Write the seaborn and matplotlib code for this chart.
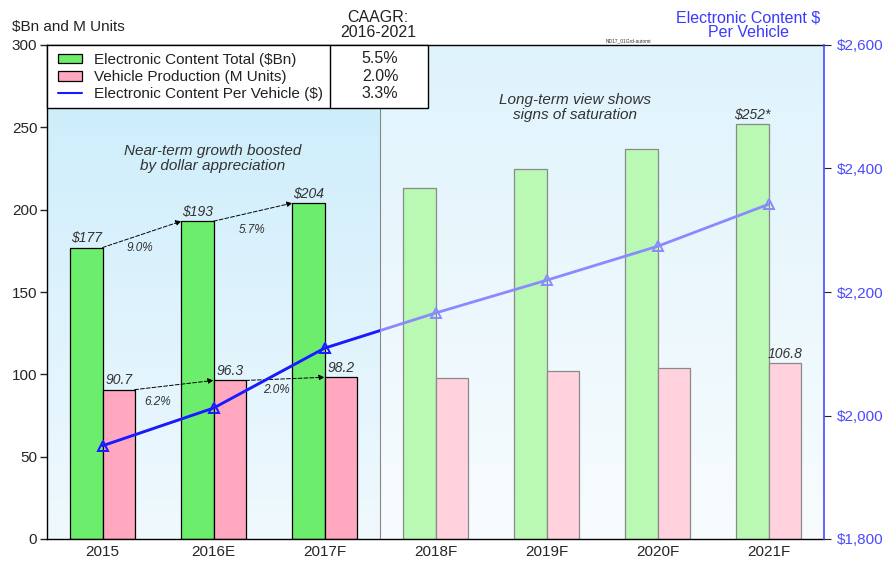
import numpy as np
import pandas as pd
import matplotlib
matplotlib.use("Agg")
import matplotlib.pyplot as plt
import seaborn as sns
from matplotlib.colors import LinearSegmentedColormap
from matplotlib.patches import Rectangle, Patch
from matplotlib.lines import Line2D
from matplotlib.ticker import FuncFormatter

# Data
years = ["2015", "2016E", "2017F", "2018F", "2019F", "2020F", "2021F"]
content_bn = [177, 193, 204, 213, 224.6, 236.8, 252]
production_m = [90.7, 96.3, 98.2, 97.9, 101.8, 104.0, 106.8]
content_per_vehicle = [1951, 2012, 2109, 2166, 2219, 2274, 2342]
series_names = ["Electronic Content Total ($Bn)", "Vehicle Production (M Units)",
                "Electronic Content Per Vehicle ($)"]
caagr = ["5.5%", "2.0%", "3.3%"]

sns.set_style("white")
plt.rcParams["font.family"] = ["Liberation Sans", "DejaVu Sans"]

GREEN, PINK = "#6cee6c", "#ffa8c0"
GREEN_L, PINK_L = "#b9f9b4", "#ffd2de"
BLUE, BLUE_L = "#1a1aff", "#8a8aff"
TXT = "#333333"

df = pd.DataFrame({
    "year": years * 2,
    "value": content_bn + production_m,
    "series": [series_names[0]] * 7 + [series_names[1]] * 7,
})

fig = plt.figure(figsize=(8.85, 5.63), dpi=100)
ax = fig.add_axes([47 / 885, 24 / 563, 777 / 885, 494 / 563])

# background gradients
left_cmap = LinearSegmentedColormap.from_list("l", ["#f0f9fe", "#c9ecfb"])
right_cmap = LinearSegmentedColormap.from_list("r", ["#f8fcfe", "#dff3fc"])
grad = np.linspace(0, 1, 256).reshape(-1, 1)
ax.imshow(grad, cmap=left_cmap, origin="lower", aspect="auto",
          extent=(-0.5, 2.5, 0, 300), zorder=0)
ax.imshow(grad, cmap=right_cmap, origin="lower", aspect="auto",
          extent=(2.5, 6.5, 0, 300), zorder=0)
ax.axvline(2.5, color="#888888", lw=0.8, zorder=0.5)

sns.barplot(data=df, x="year", y="value", hue="series", order=years,
            palette=[GREEN, PINK], width=0.58, edgecolor="black",
            linewidth=0.9, saturation=1, legend=False, ax=ax, zorder=2)
for cont, light in zip(ax.containers, [GREEN_L, PINK_L]):
    for i, p in enumerate(cont.patches):
        if i >= 3:
            p.set_facecolor(light)
            p.set_edgecolor("#8a8a8a")

ax.set_xlim(-0.5, 6.5)
ax.set_ylim(0, 300)
ax.set_yticks(range(0, 301, 50))
ax.set_xlabel("")
ax.set_ylabel("")
ax.set_xticks(np.arange(7))
ax.set_xticklabels(years)
ax.set_xticks(np.arange(-0.5, 6.6, 1), minor=True)
ax.tick_params(axis="x", which="major", length=0, labelsize=11, pad=4)
ax.tick_params(axis="x", which="minor", length=5, width=1, direction="out")
ax.tick_params(axis="y", length=5, width=1, direction="out", labelsize=11, pad=2)
ax.spines["right"].set_visible(False)
for s in ["left", "bottom", "top"]:
    ax.spines[s].set_color("black")
    ax.spines[s].set_linewidth(1)

# secondary axis: content per vehicle
ax2 = ax.twinx()
xs = np.arange(len(years))
sns.lineplot(x=xs, y=content_per_vehicle, ax=ax2, color=BLUE_L, lw=2,
             marker="^", markersize=7, markerfacecolor="none",
             markeredgecolor=BLUE_L, markeredgewidth=1.4)
sns.lineplot(x=xs, y=content_per_vehicle, ax=ax2, color=BLUE, lw=2,
             marker="^", markersize=7, markerfacecolor="none",
             markeredgecolor=BLUE, markeredgewidth=1.4)
clip = Rectangle((-0.5, 1800), 3.0, 800, transform=ax2.transData)
ax2.lines[-1].set_clip_path(clip)
ax2.set_ylim(1800, 2600)
ax2.set_yticks(range(1800, 2601, 200))
ax2.yaxis.set_major_formatter(FuncFormatter(lambda v, _: f"${v:,.0f}"))
ax2.tick_params(axis="y", labelcolor="#4a4aff", labelsize=11, length=5,
                direction="out", color="#222222", pad=4)
for s in ["left", "bottom", "top"]:
    ax2.spines[s].set_visible(False)
ax2.spines["right"].set_color("#4a4aff")
ax2.spines["right"].set_linewidth(1.2)
ax2.set_xlim(-0.5, 6.5)
ax2.set_ylabel("")

# value labels
lab = dict(fontsize=10, style="italic", color=TXT, ha="center", va="bottom")
for i in [0, 1, 2, 6]:
    star = "*" if i == 6 else ""
    ax.text(i - 0.145, content_bn[i] + 1.5, f"${content_bn[i]:.0f}{star}", **lab)
for i in [0, 1, 2, 6]:
    ax.text(i + 0.145, production_m[i] + 1.5, f"{production_m[i]:.1f}", **lab)

# growth arrows
arr = dict(arrowstyle="-|>", color="black", lw=0.7, ls=(0, (4, 2)),
           mutation_scale=8, shrinkA=0, shrinkB=0)
for i in [0, 1]:
    ax.annotate("", xy=(i + 1 - 0.29, content_bn[i + 1]),
                xytext=(i, content_bn[i]), arrowprops=arr, zorder=4)
    ax.annotate("", xy=(i + 1, production_m[i + 1]),
                xytext=(i + 0.29, production_m[i]), arrowprops=arr, zorder=4)
pct = dict(fontsize=8.5, style="italic", color=TXT, ha="center", va="center")
ax.text(0.34, 177, "9.0%", **pct)
ax.text(1.35, 187.5, "5.7%", **pct)
ax.text(0.50, 83, "6.2%", **pct)
ax.text(1.57, 90.5, "2.0%", **pct)

ax.text(0.99, 231, "Near-term growth boosted\nby dollar appreciation",
        fontsize=11, style="italic", color=TXT, ha="center", va="center",
        linespacing=1.05)
ax.text(4.26, 262, "Long-term view shows\nsigns of saturation",
        fontsize=11, style="italic", color=TXT, ha="center", va="center",
        linespacing=1.05)

# legend box with CAAGR column
ax.add_patch(Rectangle((0, 0.8725), 0.49, 0.1275, transform=ax.transAxes,
                       facecolor="white", edgecolor="black", lw=1, zorder=5,
                       clip_on=False))
ax.plot([0.364, 0.364], [0.8725, 1.0], transform=ax.transAxes, color="black",
        lw=1, zorder=6, clip_on=False)
handles = [Patch(facecolor=GREEN, edgecolor="black", lw=0.9),
           Patch(facecolor=PINK, edgecolor="black", lw=0.9),
           Line2D([], [], color=BLUE, lw=1.5)]
leg = ax.legend(handles, series_names, loc="upper left",
                bbox_to_anchor=(-0.002, 1.008), frameon=False, fontsize=11,
                handlelength=1.6, handleheight=0.55, labelspacing=0.2,
                handletextpad=0.8, borderpad=0.3)
leg.set_zorder(7)
for t in leg.get_texts():
    t.set_color("#222222")
for k, c in enumerate(caagr):
    ax.text(0.4286, 0.972 - 0.0355 * k, c, transform=ax.transAxes,
            fontsize=11.5, ha="center", va="center", color="#222222", zorder=7)

fig.text(378 / 885, 1 - 25 / 563, "CAAGR:\n2016-2021", ha="center",
         va="center", fontsize=11.5, color="#222222", linespacing=1.0)
fig.text(12 / 885, 1 - 27 / 563, "$Bn and M Units", ha="left", va="center",
         fontsize=11, color="#222222")
fig.text(748 / 885, 1 - 25 / 563, "Electronic Content $\nPer Vehicle",
         ha="center", va="center", fontsize=11.5, color="#3a3aff",
         linespacing=1.0)
fig.text(628 / 885, 1 - 41 / 563, "ND17_01Grd-automt", ha="center",
         va="center", fontsize=3.5, color="#333333")

fig.savefig("out.png", dpi=100)
